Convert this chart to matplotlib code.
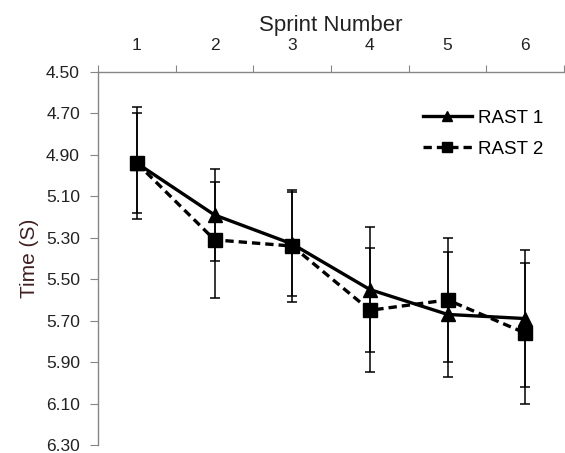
import numpy as np
import matplotlib
matplotlib.use("Agg")
import matplotlib.pyplot as plt
from matplotlib.ticker import FixedLocator, FormatStrFormatter

plt.rcParams['font.family'] = ['Liberation Sans', 'DejaVu Sans']

# data
sprints = [1, 2, 3, 4, 5, 6]
rast1 = [4.94, 5.19, 5.33, 5.55, 5.67, 5.69]
rast1_err = [0.24, 0.22, 0.25, 0.30, 0.30, 0.33]
rast2 = [4.94, 5.31, 5.34, 5.65, 5.60, 5.76]
rast2_err = [0.27, 0.28, 0.27, 0.30, 0.30, 0.34]
y_ticks = [4.50, 4.70, 4.90, 5.10, 5.30, 5.50, 5.70, 5.90, 6.10, 6.30]

axis_grey = '#868686'

fig = plt.figure(figsize=(5.65, 4.53), dpi=100)
ax = fig.add_axes([0.1735, 0.0177, 0.825, 0.8234])

ax.errorbar(sprints, rast1, yerr=rast1_err, color='black', lw=2.4,
            marker='^', markersize=10, ecolor='black', elinewidth=1.1,
            capsize=3.5, capthick=1.1, label='RAST 1', zorder=3)
ax.errorbar(sprints, rast2, yerr=rast2_err, color='black', lw=2.4,
            ls=(0, (2.5, 1.5)), marker='s', markersize=9.5, ecolor='black',
            elinewidth=1.1, capsize=3.5, capthick=1.1, label='RAST 2', zorder=3)

ax.set_xlim(0.5, 6.5)
ax.set_ylim(6.30, 4.50)

# x axis on top, Excel style: ticks between categories, labels centred
ax.xaxis.set_ticks_position('top')
ax.xaxis.set_label_position('top')
ax.xaxis.set_major_locator(FixedLocator(np.arange(0.5, 7.0, 1.0)))
ax.xaxis.set_minor_locator(FixedLocator(sprints))
ax.set_xticklabels([])
ax.set_xticklabels([str(s) for s in sprints], minor=True)
ax.tick_params(axis='x', which='major', direction='out', length=5,
               color=axis_grey, top=True, bottom=False)
ax.tick_params(axis='x', which='minor', length=0, pad=14, labelsize=12.5,
               labelcolor='#222222', top=True, bottom=False,
               labeltop=True, labelbottom=False)

ax.set_yticks(y_ticks)
ax.yaxis.set_major_formatter(FormatStrFormatter('%.2f'))
ax.tick_params(axis='y', direction='out', length=6, color=axis_grey,
               labelsize=12.5, labelcolor='#222222', pad=7)

for side in ['right', 'bottom']:
    ax.spines[side].set_visible(False)
for side in ['left', 'top']:
    ax.spines[side].set_color(axis_grey)
    ax.spines[side].set_linewidth(1.0)

ax.set_xlabel('Sprint Number', fontsize=16, color='#222222', labelpad=5)
ax.set_ylabel('Time (S)', fontsize=15, color='#402020', labelpad=5)

handles, labels = ax.get_legend_handles_labels()
handles = [h[0] for h in handles]
ax.legend(handles, labels, loc='center left', bbox_to_anchor=(0.697, 0.834),
          frameon=False, fontsize=13.5, handlelength=2.6, handletextpad=0.32,
          labelspacing=0.75, borderpad=0, borderaxespad=0, markerscale=0.75)

fig.savefig('out.png', dpi=100)
